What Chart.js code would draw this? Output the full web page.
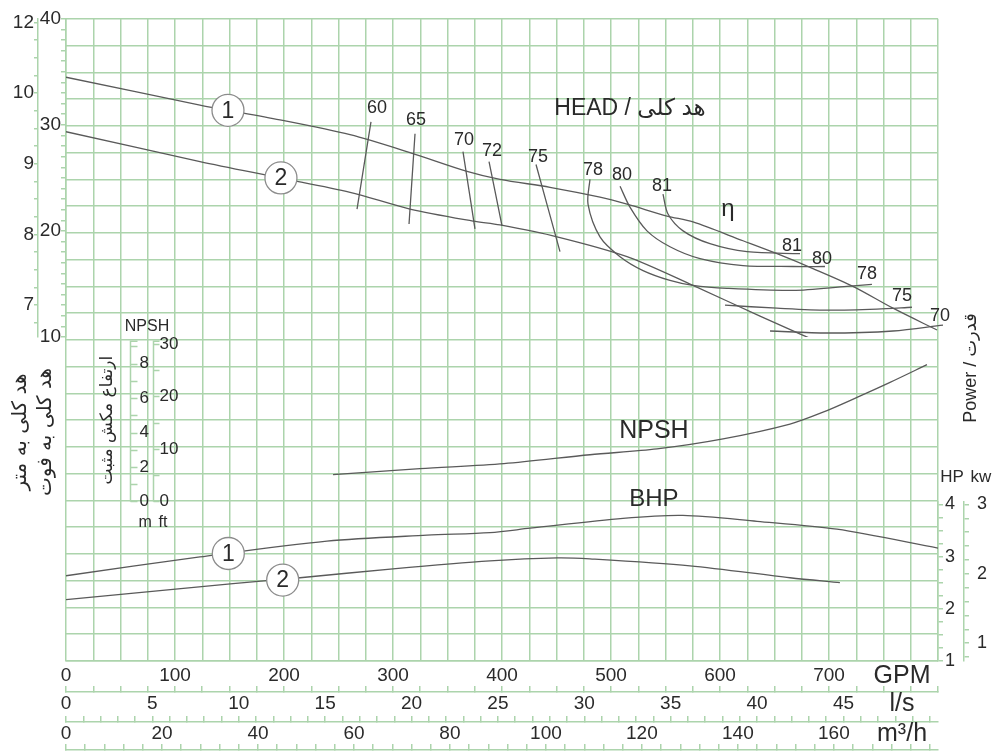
<!DOCTYPE html>
<html>
<head>
<meta charset="utf-8">
<title>Pump performance curve</title>
<script src="https://cdn.jsdelivr.net/npm/chart.js"></script>
<style>
html,body{margin:0;padding:0;background:#ffffff;overflow:hidden;}
canvas{display:block;}
</style>
</head>
<body>
<canvas id="chart" width="1000" height="751"></canvas>
<script>
// ---------------- data (flow in GPM, head in ft, power in HP, NPSH in m) ----------------
const head1Gpm = [0,122.9,196.3,260.6,315.6,367.9,398.2,444.0,489.9,514.7,551.4,575.2,621.1,652.3,685.3,722.0,758.7,799.1];
const head1Ft  = [34.49,31.87,30.47,29.07,27.38,25.61,24.86,24.11,23.18,22.52,21.40,20.84,19.07,17.85,16.45,14.77,12.71,10.65];
const head2Gpm = [0,122.9,196.3,260.6,315.6,373.4,398.2,450.5,514.7,575.2,636.7,712.8];
const head2Ft  = [29.35,26.54,25.00,23.64,22.06,20.93,20.56,19.44,17.57,14.86,11.96,8.50];

const bhp1Gpm = [0,122.9,239.4,331.2,389.0,425.7,511.0,566.0,634.0,707.3,800];
const bhp1Hp  = [2.633,2.994,3.297,3.411,3.46,3.544,3.734,3.791,3.677,3.525,3.164];
const bhp2Gpm = [0,153.2,214.7,300.0,389.0,450.5,480.7,572.5,664.2,710.0];
const bhp2Hp  = [2.177,2.481,2.595,2.766,2.918,2.975,2.956,2.823,2.595,2.500];

const npshGpm = [245,324.8,401.8,480.7,542.2,602.8,664.2,694.5,725.7,756.0,789.9];
const npshM   = [1.55,1.90,2.19,2.71,3.05,3.63,4.49,5.18,6.04,6.91,7.94];

// iso-efficiency lines (GPM, ft)
const eff60Gpm = [279.8,267.0];  const eff60Ft = [30.28,22.06];
const eff65Gpm = [320.2,314.7];  const eff65Ft = [29.16,20.65];
const eff70aGpm = [364.2,375.2]; const eff70aFt = [27.48,20.19];
const eff72Gpm = [388.1,400.0];  const eff72Ft = [26.54,20.47];
const eff75aGpm = [431.2,453.2]; const eff75aFt = [26.26,18.04];
const eff78Gpm = [480.7,478.9,489.9,508.3,529.4,554.1,575.2,606.4,667.0,716.5,739.4];
const eff78Ft  = [24.86,22.52,19.44,17.57,16.26,15.33,14.86,14.58,14.39,14.77,14.95];
const eff80Gpm = [508.3,517.4,533.0,554.1,581.7,621.1,667.0,696.3];
const eff80Ft  = [24.21,22.24,20.00,18.50,17.38,16.73,16.64,16.64];
const eff81Gpm = [547.7,552.3,566.1,590.8,624.8,673.4];
const eff81Ft  = [23.46,21.59,20.00,18.79,18.04,17.85];
const eff75bGpm = [604.6,652.3,698.2,744.0,776.1];
const eff75bFt  = [12.99,12.71,12.52,12.62,12.80];
const eff70bGpm = [645.9,698.2,758.7,804.6];
const eff70bFt  = [10.56,10.37,10.56,11.12];

// curve number markers
const circleLabels = ['1','2'];
const headCircleGpm = [148.6,197.2];
const headCircleFt  = [31.37,24.99];
const bhpCircleGpm  = [148.9,198.8];
const bhpCircleHp   = [3.06,2.55];

// ---------------- tick labels ----------------
const gpmMax = 800;
const gpmGridStep = 25;
const gpmTickLabels = [0,100,200,300,400,500,600,700];
const lsTickLabels  = [0,5,10,15,20,25,30,35,40,45];
const m3hTickLabels = [0,20,40,60,80,100,120,140,160];
const meterTickValues = [7,8,9,10,11];
const meterTickLabels = ['7','8','9','10','12'];
const feetTickLabels = [10,20,30,40];
const hpTickLabels = [1,2,3,4];
const kwTickLabels = [1,2,3];
const npshMTicks = [0,1,2,3,4,5,6,7,8,9];
const npshMTickLabels = [0,2,4,6,8];
const npshFtTicks = [0,5,10,15,20,25,30];
const npshFtTickLabels = [0,10,20,30];

// unit conversions
const LS_PER_GPM = 0.0630902;
const M3H_PER_GPM = 0.227125;
const M3H_PER_LS = 3.6;
const FT_PER_M = 3.28084;

// ---------------- styles ----------------
const GRID = '#acd4ac';
const INK = '#2a2a2a';
const CURVE = '#5a5a5a';
const LAT = "'Liberation Sans', Arial, Helvetica, 'DejaVu Sans', sans-serif";
const ARB = "'DejaVu Sans', 'Liberation Sans', sans-serif";
const CLEAR = 'rgba(0,0,0,0)';

const near = (a, b) => Math.abs(a - b) < 1e-6;
const seq = (a, b, step) => { const n = Math.round((b - a) / step); const o = []; for (let i = 0; i <= n; i++) o.push(+(a + i * step).toFixed(6)); return o; };
const marksOnly = c => (c.tick && c.tick.kind === 'mark') ? GRID : CLEAR;
const tickFont = size => c => (c.tick && c.tick.kind === 'unit') ? {family: LAT, size: 25, lineHeight: 0.95} : {family: LAT, size: size};
const txtCb = (v, i, t) => (t[i] && t[i].txt) || '';
const pts = (xs, ys) => xs.map((x, i) => ({x: x, y: ys[i]}));

function line(xs, ys, axis, extra) {
  return Object.assign({
    data: pts(xs, ys), yAxisID: axis, showLine: true, pointRadius: 0, pointHoverRadius: 0,
    borderColor: CURVE, borderWidth: 1.3, tension: 0.3, fill: false, order: 2
  }, extra || {});
}
function circles(xs, ys, axis) {
  return {data: pts(xs, ys), yAxisID: axis, showLine: false, pointRadius: 16, pointHoverRadius: 16,
    pointBackgroundColor: '#ffffff', pointBorderColor: '#8c8c8c', pointBorderWidth: 1.3, order: 0};
}

const datasets = [
  circles(headCircleGpm, headCircleFt, 'yFt'),
  circles(bhpCircleGpm, bhpCircleHp, 'yHp'),
  line(head1Gpm, head1Ft, 'yFt'),
  line(head2Gpm, head2Ft, 'yFt'),
  line(bhp1Gpm, bhp1Hp, 'yHp'),
  line(bhp2Gpm, bhp2Hp, 'yHp'),
  line(npshGpm, npshM, 'yNpshM'),
  line(eff60Gpm, eff60Ft, 'yFt'),
  line(eff65Gpm, eff65Ft, 'yFt'),
  line(eff70aGpm, eff70aFt, 'yFt'),
  line(eff72Gpm, eff72Ft, 'yFt'),
  line(eff75aGpm, eff75aFt, 'yFt'),
  line(eff78Gpm, eff78Ft, 'yFt'),
  line(eff80Gpm, eff80Ft, 'yFt'),
  line(eff81Gpm, eff81Ft, 'yFt'),
  line(eff75bGpm, eff75bFt, 'yFt'),
  line(eff70bGpm, eff70bFt, 'yFt', {clip: false})
];

// ---------------- text annotations (placed in data coordinates) ----------------
const plotNotes = [
  {text: 'HEAD / هد کلی', x: 517.4, y: 31.5, axis: 'yFt', size: 23},
  {text: 'η', x: 607.3, y: 22.06, axis: 'yFt', size: 24},
  {text: '60', x: 285.3, y: 31.59, axis: 'yFt', size: 18},
  {text: '65', x: 321.1, y: 30.47, axis: 'yFt', size: 18},
  {text: '70', x: 365.1, y: 28.60, axis: 'yFt', size: 18},
  {text: '72', x: 390.8, y: 27.57, axis: 'yFt', size: 18},
  {text: '75', x: 433.0, y: 26.92, axis: 'yFt', size: 18},
  {text: '78', x: 483.5, y: 25.70, axis: 'yFt', size: 18},
  {text: '80', x: 510.1, y: 25.23, axis: 'yFt', size: 18},
  {text: '81', x: 546.8, y: 24.21, axis: 'yFt', size: 18},
  {text: '81', x: 666.1, y: 18.60, axis: 'yFt', size: 18},
  {text: '80', x: 693.6, y: 17.38, axis: 'yFt', size: 18},
  {text: '78', x: 734.9, y: 15.89, axis: 'yFt', size: 18},
  {text: '75', x: 767.0, y: 13.83, axis: 'yFt', size: 18},
  {text: '70', x: 801.8, y: 11.96, axis: 'yFt', size: 18},
  {text: 'NPSH', x: 539.4, y: 4.09, axis: 'yNpshM', size: 25},
  {text: 'BHP', x: 539.4, y: 4.095, axis: 'yHp', size: 24}
];
const npshInset = {mAxisGpm: 58.7, ftAxisGpm: 79.8, mTop: 9.3, ftTop: 30.5, titleGpm: 38.5, titleM: 4.72};
const sideTitles = [
  {text: 'هد کلی به متر', px: 21, py: 432, size: 20, rot: -Math.PI / 2, font: ARB},
  {text: 'هد کلی به فوت', px: 46, py: 432, size: 20, rot: -Math.PI / 2, font: ARB},
  {text: 'Power / قدرت', px: 971, py: 368, size: 18, rot: -Math.PI / 2, font: LAT},
  {text: 'HP', px: 952, py: 477, size: 17, rot: 0, font: LAT},
  {text: 'kw', px: 981, py: 477, size: 17, rot: 0, font: LAT}
];

function drawInset(chart, ctx) {
  const X = chart.scales.x, M = chart.scales.yNpshM, F = chart.scales.yNpshFt;
  const xm = Math.round(X.getPixelForValue(npshInset.mAxisGpm)) + 0.5;
  const xf = Math.round(X.getPixelForValue(npshInset.ftAxisGpm)) + 0.5;
  ctx.save();
  ctx.strokeStyle = GRID; ctx.lineWidth = 1.5;
  ctx.beginPath();
  const mTopY = M.getPixelForValue(npshInset.mTop), fTopY = F.getPixelForValue(npshInset.ftTop);
  ctx.moveTo(xm, M.getPixelForValue(0)); ctx.lineTo(xm, mTopY); ctx.lineTo(xm + 7, mTopY);
  npshMTicks.forEach(v => { const y = Math.round(M.getPixelForValue(v)) + 0.5; ctx.moveTo(xm, y); ctx.lineTo(xm + 7, y); });
  ctx.moveTo(xf, F.getPixelForValue(0)); ctx.lineTo(xf, fTopY); ctx.lineTo(xf + 6, fTopY);
  npshFtTicks.forEach(v => { const y = Math.round(F.getPixelForValue(v)) + 0.5; ctx.moveTo(xf, y); ctx.lineTo(xf + 6, y); });
  ctx.stroke();
  ctx.fillStyle = INK; ctx.textBaseline = 'middle'; ctx.textAlign = 'left';
  ctx.font = '17px ' + LAT;
  npshMTickLabels.forEach(v => ctx.fillText(String(v), xm + 9, M.getPixelForValue(v)));
  npshFtTickLabels.forEach(v => ctx.fillText(String(v), xf + 6, F.getPixelForValue(v)));
  ctx.font = '16px ' + LAT;
  ctx.textAlign = 'center';
  ctx.fillText('NPSH', (xm + xf) / 2 + 5, mTopY - 15);
  ctx.textAlign = 'left';
  ctx.fillText('m', xm + 8, M.getPixelForValue(0) + 21);
  ctx.fillText('ft', xf + 5, M.getPixelForValue(0) + 21);
  ctx.translate(X.getPixelForValue(npshInset.titleGpm), M.getPixelForValue(npshInset.titleM));
  ctx.rotate(-Math.PI / 2);
  ctx.textAlign = 'center';
  ctx.font = '17px ' + ARB;
  ctx.fillText('ارتفاع مکش مثبت', 0, 0);
  ctx.restore();
}

const notesPlugin = {
  id: 'pumpNotes',
  afterDatasetsDraw(chart) {
    const ctx = chart.ctx, X = chart.scales.x;
    ctx.save();
    ctx.fillStyle = INK; ctx.textAlign = 'center'; ctx.textBaseline = 'middle';
    plotNotes.forEach(n => {
      ctx.font = n.size + 'px ' + LAT;
      ctx.fillText(n.text, X.getPixelForValue(n.x), chart.scales[n.axis].getPixelForValue(n.y));
    });
    ctx.font = '23px ' + LAT;
    headCircleGpm.forEach((g, i) => ctx.fillText(circleLabels[i], X.getPixelForValue(g), chart.scales.yFt.getPixelForValue(headCircleFt[i]) + 1));
    bhpCircleGpm.forEach((g, i) => ctx.fillText(circleLabels[i], X.getPixelForValue(g), chart.scales.yHp.getPixelForValue(bhpCircleHp[i]) + 1));
    ctx.restore();
    drawInset(chart, ctx);
    sideTitles.forEach(t => {
      ctx.save();
      ctx.fillStyle = INK; ctx.textAlign = 'center'; ctx.textBaseline = 'middle';
      ctx.translate(t.px, t.py); ctx.rotate(t.rot);
      ctx.font = t.size + 'px ' + t.font;
      ctx.fillText(t.text, 0, 0);
      ctx.restore();
    });
  }
};

// ---------------- axes ----------------
const yTickCommon = {autoSkip: false, color: INK, callback: txtCb};
const scales = {
  x: {
    type: 'linear', position: 'bottom', weight: 1, min: 0, max: gpmMax,
    afterBuildTicks: s => {
      s.ticks = seq(0, gpmMax, gpmGridStep).map(v => ({value: v, kind: 'mark', txt: gpmTickLabels.some(l => near(l, v)) ? String(v) : ''}))
        .concat([{value: 767, kind: 'unit', txt: 'GPM'}]);
    },
    afterFit: s => { s.height = 31; },
    grid: {color: marksOnly, tickColor: marksOnly, lineWidth: 1.5, drawTicks: false, drawOnChartArea: true},
    border: {display: true, color: GRID, width: 1.5},
    ticks: {autoSkip: false, maxRotation: 0, minRotation: 0, padding: 3, color: INK, font: tickFont(19), callback: txtCb}
  },
  xLs: {
    type: 'linear', axis: 'x', position: 'bottom', weight: 2, min: 0, max: gpmMax * LS_PER_GPM,
    afterBuildTicks: s => {
      const t = seq(0, gpmMax, gpmGridStep).map(g => ({value: g * LS_PER_GPM, kind: 'mark', txt: ''}));
      lsTickLabels.forEach(v => t.push({value: v, kind: 'label', txt: String(v)}));
      t.push({value: 767 * LS_PER_GPM, kind: 'unit', txt: 'l/s'});
      s.ticks = t;
    },
    afterFit: s => { s.height = 30; },
    grid: {color: marksOnly, tickColor: marksOnly, lineWidth: 1.5, drawOnChartArea: false, drawTicks: true, tickLength: -6},
    border: {display: true, color: GRID, width: 1.5},
    ticks: {autoSkip: false, maxRotation: 0, minRotation: 0, padding: 6, color: INK, font: tickFont(19), callback: txtCb}
  },
  xM3h: {
    type: 'linear', axis: 'x', position: 'bottom', weight: 3, min: 0, max: gpmMax * M3H_PER_GPM,
    afterBuildTicks: s => {
      const t = seq(0, 50, 1).map(l => ({value: l * M3H_PER_LS, kind: 'mark', txt: ''}));
      m3hTickLabels.forEach(v => t.push({value: v, kind: 'label', txt: String(v)}));
      t.push({value: 767 * M3H_PER_GPM, kind: 'unit', txt: 'm³/h'});
      s.ticks = t;
    },
    afterFit: s => { s.height = 28; },
    grid: {color: marksOnly, tickColor: marksOnly, lineWidth: 1.5, drawOnChartArea: false, drawTicks: true, tickLength: -6},
    border: {display: true, color: GRID, width: 1.5},
    ticks: {autoSkip: false, maxRotation: 0, minRotation: 0, padding: 6, color: INK, font: tickFont(19), callback: txtCb}
  },
  xEnd: {
    type: 'linear', axis: 'x', position: 'bottom', weight: 4, min: 0, max: gpmMax * M3H_PER_GPM,
    afterBuildTicks: s => { s.ticks = seq(0, 180, 4).map(v => ({value: v, kind: 'mark', txt: ''})); },
    afterFit: s => { s.height = 1; },
    grid: {color: GRID, tickColor: GRID, lineWidth: 1.5, drawOnChartArea: false, drawTicks: true, tickLength: -6},
    border: {display: true, color: GRID, width: 1.5},
    ticks: {display: false}
  },
  yM: {
    type: 'linear', axis: 'y', position: 'left', stack: 'mStack', stackWeight: 321, weight: 4, min: 6.55, max: 11.05,
    afterBuildTicks: s => {
      s.ticks = seq(6.75, 11, 0.25).map(v => { const k = meterTickValues.findIndex(m => near(m, v)); return {value: v, kind: 'mark', txt: k >= 0 ? meterTickLabels[k] : ''}; });
    },
    afterFit: s => { s.width = 36; },
    grid: {drawOnChartArea: false, drawTicks: true, tickLength: 4, color: GRID, lineWidth: 1.5},
    border: {display: true, color: GRID, width: 1.5},
    ticks: Object.assign({padding: 0, font: {family: LAT, size: 19}}, yTickCommon)
  },
  yMSp: {type: 'linear', axis: 'y', position: 'left', stack: 'mStack', stackWeight: 327, weight: 3, display: false},
  yFt: {
    type: 'linear', axis: 'y', position: 'left', stack: 'ftStack', stackWeight: 321, weight: 2, min: 10, max: 40,
    afterBuildTicks: s => {
      s.ticks = seq(10, 40, 1).map(v => ({value: v, kind: 'mark', txt: feetTickLabels.some(l => near(l, v)) ? String(v) : ''}));
    },
    afterFit: s => { s.width = 28; },
    grid: {drawOnChartArea: false, drawTicks: true, tickLength: 5, color: GRID, lineWidth: 1.5},
    border: {display: true, color: GRID, width: 1.5},
    ticks: Object.assign({padding: 0, font: {family: LAT, size: 19}}, yTickCommon)
  },
  yFtSp: {type: 'linear', axis: 'y', position: 'left', stack: 'ftStack', stackWeight: 327, weight: 1, display: false},
  gridY: {
    type: 'linear', axis: 'y', position: 'left', weight: 0, min: 0, max: 24,
    afterBuildTicks: s => { s.ticks = seq(0, 24, 1).map(v => ({value: v})); },
    afterFit: s => { s.width = 0; },
    grid: {color: GRID, lineWidth: 1.5, drawTicks: false, drawOnChartArea: true},
    border: {display: false},
    ticks: {display: false}
  },
  yNpshM: {type: 'linear', axis: 'y', position: 'left', weight: -1, display: false, min: -9.27, max: 28.03},
  yNpshFt: {type: 'linear', axis: 'y', position: 'left', weight: -2, display: false, min: -9.27 * FT_PER_M, max: 28.03 * FT_PER_M},
  yHpSp: {type: 'linear', axis: 'y', position: 'right', stack: 'hpStack', stackWeight: 487, weight: 1, display: false},
  yHp: {
    type: 'linear', axis: 'y', position: 'right', stack: 'hpStack', stackWeight: 161, weight: 2, min: 1, max: 4.057,
    afterBuildTicks: s => {
      s.ticks = seq(1, 4, 0.25).map(v => ({value: v, kind: 'mark', txt: hpTickLabels.some(l => near(l, v)) ? String(v) : ''}));
    },
    afterFit: s => { s.width = 26; },
    grid: {drawOnChartArea: false, drawTicks: true, tickLength: 5, color: GRID, lineWidth: 1.5},
    border: {display: true, color: GRID, width: 1.5},
    ticks: Object.assign({padding: 2, font: {family: LAT, size: 18}}, yTickCommon)
  },
  yKwSp: {type: 'linear', axis: 'y', position: 'right', stack: 'kwStack', stackWeight: 487, weight: 3, display: false},
  yKw: {
    type: 'linear', axis: 'y', position: 'right', stack: 'kwStack', stackWeight: 161, weight: 4, min: 0.743, max: 3.043,
    afterBuildTicks: s => {
      s.ticks = seq(0.8, 3.0, 0.2).map(v => ({value: v, kind: 'mark', txt: kwTickLabels.some(l => near(l, v)) ? String(v) : ''}));
    },
    afterFit: s => { s.width = 32; },
    grid: {drawOnChartArea: false, drawTicks: true, tickLength: 5, color: GRID, lineWidth: 1.5},
    border: {display: true, color: GRID, width: 1.5},
    ticks: Object.assign({padding: 8, font: {family: LAT, size: 18}}, yTickCommon)
  }
};

new Chart(document.getElementById('chart'), {
  type: 'scatter',
  data: {datasets: datasets},
  options: {
    responsive: false,
    animation: false,
    events: [],
    layout: {padding: {left: 2, right: 4, top: 13, bottom: 0}},
    plugins: {legend: {display: false}, tooltip: {enabled: false}, title: {display: false}},
    scales: scales
  },
  plugins: [notesPlugin]
});
</script>
</body>
</html>
